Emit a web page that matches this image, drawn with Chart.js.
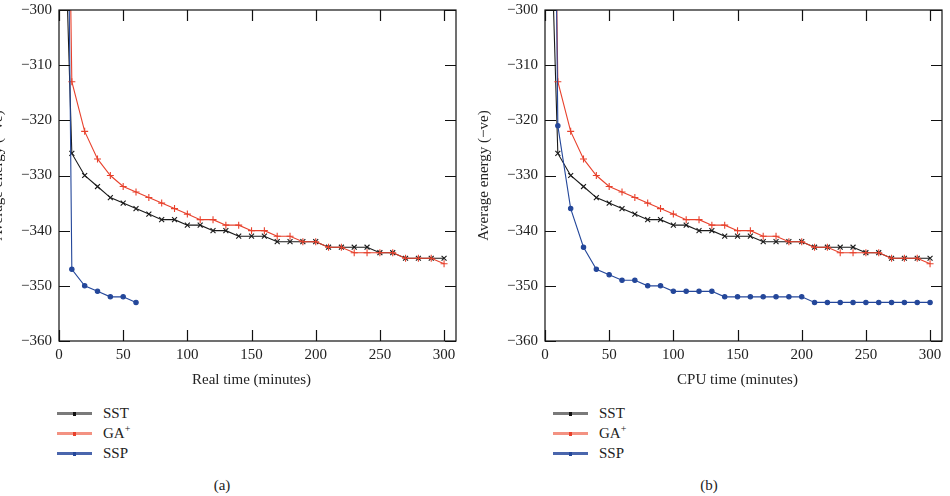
<!DOCTYPE html>
<html lang="en">
<head>
<meta charset="UTF-8">
<title>Average energy against time</title>
<script src="https://cdn.jsdelivr.net/npm/chart.js@4.4.0/dist/chart.umd.min.js"></script>
<style>
    body {
        margin: 0;
        width: 950px;
        height: 496px;
        overflow: hidden;
        position: relative;
        background: #fff;
        color: #222;
        font-family: 'Liberation Serif', 'Times New Roman', serif;
    }
    .panel {
        position: absolute;
        top: 0;
        width: 475px;
        height: 400px;
    }
    #panel-a { left: -11px; }
    #panel-b { left: 475px; }
    .legend {
        position: absolute;
        top: 403px;
        font-size: 15px;
    }
    .legend .row {
        position: relative;
        height: 20px;
        white-space: nowrap;
    }
    .legend .swatch {
        position: absolute;
        left: 0;
        top: 9px;
        width: 35px;
        height: 3px;
    }
    .legend .swatch i {
        position: absolute;
        left: 16px;
        top: -0.5px;
        width: 3px;
        height: 4px;
    }
    .legend .label {
        position: absolute;
        left: 46px;
        top: 0;
        line-height: 20px;
    }
    .legend sup { font-size: 10px; line-height: 0; }
    .caption {
        position: absolute;
        top: 475px;
        font-size: 15px;
        line-height: 20px;
        transform: translateX(-50%);
    }
</style>
</head>
<body>
<canvas id="panel-a" class="panel" width="475" height="400"></canvas>
<canvas id="panel-b" class="panel" width="475" height="400"></canvas>

<div class="legend" style="left:57px">
    <div class="row"><span class="swatch" style="background:#7a7a7a"><i style="background:#111"></i></span><span class="label">SST</span></div>
    <div class="row"><span class="swatch" style="background:#f39282"><i style="background:#e8412c"></i></span><span class="label">GA<sup>+</sup></span></div>
    <div class="row"><span class="swatch" style="background:#4a66ad"><i style="background:#24479a"></i></span><span class="label">SSP</span></div>
</div>
<div class="legend" style="left:553px">
    <div class="row"><span class="swatch" style="background:#7a7a7a"><i style="background:#111"></i></span><span class="label">SST</span></div>
    <div class="row"><span class="swatch" style="background:#f39282"><i style="background:#e8412c"></i></span><span class="label">GA<sup>+</sup></span></div>
    <div class="row"><span class="swatch" style="background:#4a66ad"><i style="background:#24479a"></i></span><span class="label">SSP</span></div>
</div>
<div class="caption" style="left:222px">(a)</div>
<div class="caption" style="left:709px">(b)</div>

<script>
    // time in minutes (same sampling for every run)
    const times = [0, 10, 20, 30, 40, 50, 60, 70, 80, 90, 100, 110, 120, 130, 140, 150,
                   160, 170, 180, 190, 200, 210, 220, 230, 240, 250, 260, 270, 280, 290, 300];

    // average energy (-ve); first value is the off-scale start
    const sst = [-248, -326, -330, -332, -334, -335, -336, -337, -338, -338, -339,
                 -339, -340, -340, -341, -341, -341, -342, -342, -342, -342,
                 -343, -343, -343, -343, -344, -344, -345, -345, -345, -345];
    const gaPlus = [-150, -313, -322, -327, -330, -332, -333, -334, -335, -336, -337,
                    -338, -338, -339, -339, -340, -340, -341, -341, -342, -342,
                    -343, -343, -344, -344, -344, -344, -345, -345, -345, -346];
    const sspReal = [-112, -347, -350, -351, -352, -352, -353];
    const sspCpu = [-100, -321, -336, -343, -347, -348, -349, -349, -350, -350, -351,
                    -351, -351, -351, -352, -352, -352, -352, -352, -352, -352,
                    -353, -353, -353, -353, -353, -353, -353, -353, -353, -353];

    const xTicks = [0, 50, 100, 150, 200, 250, 300];
    const yTicks = [-360, -350, -340, -330, -320, -310, -300];

    const FONT = "'Liberation Serif', 'Times New Roman', serif";

    // box round the plot, ticks pointing inwards on all four sides, x title
    const framePlugin = {
        id: 'frame',
        afterDraw(chart, args, opts) {
            const { ctx, chartArea: a, scales } = chart;
            const x = scales.x, y = scales.y;
            const tl = 11;
            ctx.save();
            ctx.strokeStyle = '#111';
            ctx.lineWidth = 1.2;
            ctx.strokeRect(a.left, a.top, a.right - a.left, a.bottom - a.top);
            ctx.beginPath();
            xTicks.forEach(v => {
                const px = Math.round(x.getPixelForValue(v)) + 0.5;
                ctx.moveTo(px, a.bottom); ctx.lineTo(px, a.bottom - tl);
                ctx.moveTo(px, a.top); ctx.lineTo(px, a.top + tl);
            });
            yTicks.forEach(v => {
                const py = Math.round(y.getPixelForValue(v)) + 0.5;
                ctx.moveTo(a.left, py); ctx.lineTo(a.left + tl, py);
                ctx.moveTo(a.right, py); ctx.lineTo(a.right - tl, py);
            });
            ctx.stroke();
            ctx.fillStyle = '#222';
            ctx.font = '15px ' + FONT;
            ctx.textAlign = 'center';
            ctx.textBaseline = 'middle';
            ctx.fillText(opts.xTitle, x.getPixelForValue(150), 380);
            ctx.restore();
        }
    };

    function points(values) {
        return values.map((v, i) => ({ x: times[i], y: v }));
    }

    function series(label, values, color, style, radius, order) {
        return {
            label: label,
            data: points(values),
            borderColor: color,
            backgroundColor: color,
            borderWidth: 1.1,
            pointStyle: style,
            pointRadius: radius,
            pointBorderWidth: 1.1,
            pointHoverRadius: radius,
            tension: 0,
            order: order
        };
    }

    function makeChart(id, xTitle, ssp) {
        return new Chart(document.getElementById(id), {
            type: 'line',
            data: {
                datasets: [
                    series('SST', sst, '#1a1a1a', 'crossRot', 3.5, 3),
                    series('GA+', gaPlus, '#e8412c', 'cross', 3.5, 2),
                    series('SSP', ssp, '#24479a', 'circle', 2.2, 1)
                ]
            },
            options: {
                responsive: false,
                animation: false,
                layout: { padding: { top: 10, right: 8, left: 0, bottom: 0 } },
                plugins: {
                    legend: { display: false },
                    tooltip: { enabled: false },
                    frame: { xTitle: xTitle }
                },
                scales: {
                    x: {
                        type: 'linear',
                        min: 0,
                        max: 309.3,
                        grid: { display: false, drawTicks: false },
                        border: { display: false },
                        afterBuildTicks: s => { s.ticks = xTicks.map(v => ({ value: v })); },
                        afterFit: s => { s.height = 59; s.paddingLeft = 0; s.paddingRight = 0; },
                        ticks: {
                            padding: 5,
                            maxRotation: 0,
                            color: '#222',
                            font: { family: FONT, size: 15 }
                        }
                    },
                    y: {
                        min: -360,
                        max: -300,
                        grid: { display: false, drawTicks: false },
                        border: { display: false },
                        afterBuildTicks: s => { s.ticks = yTicks.map(v => ({ value: v })); },
                        afterFit: s => { s.width = 70; s.paddingTop = 0; s.paddingBottom = 0; },
                        ticks: {
                            padding: 7,
                            color: '#222',
                            font: { family: FONT, size: 15 },
                            callback: v => '\u2212' + Math.abs(v)
                        },
                        title: {
                            display: true,
                            text: 'Average energy (\u2212ve)',
                            color: '#222',
                            padding: 0,
                            font: { family: FONT, size: 15 }
                        }
                    }
                }
            },
            plugins: [framePlugin]
        });
    }

    makeChart('panel-a', 'Real time (minutes)', sspReal);
    makeChart('panel-b', 'CPU time (minutes)', sspCpu);
</script>
</body>
</html>
